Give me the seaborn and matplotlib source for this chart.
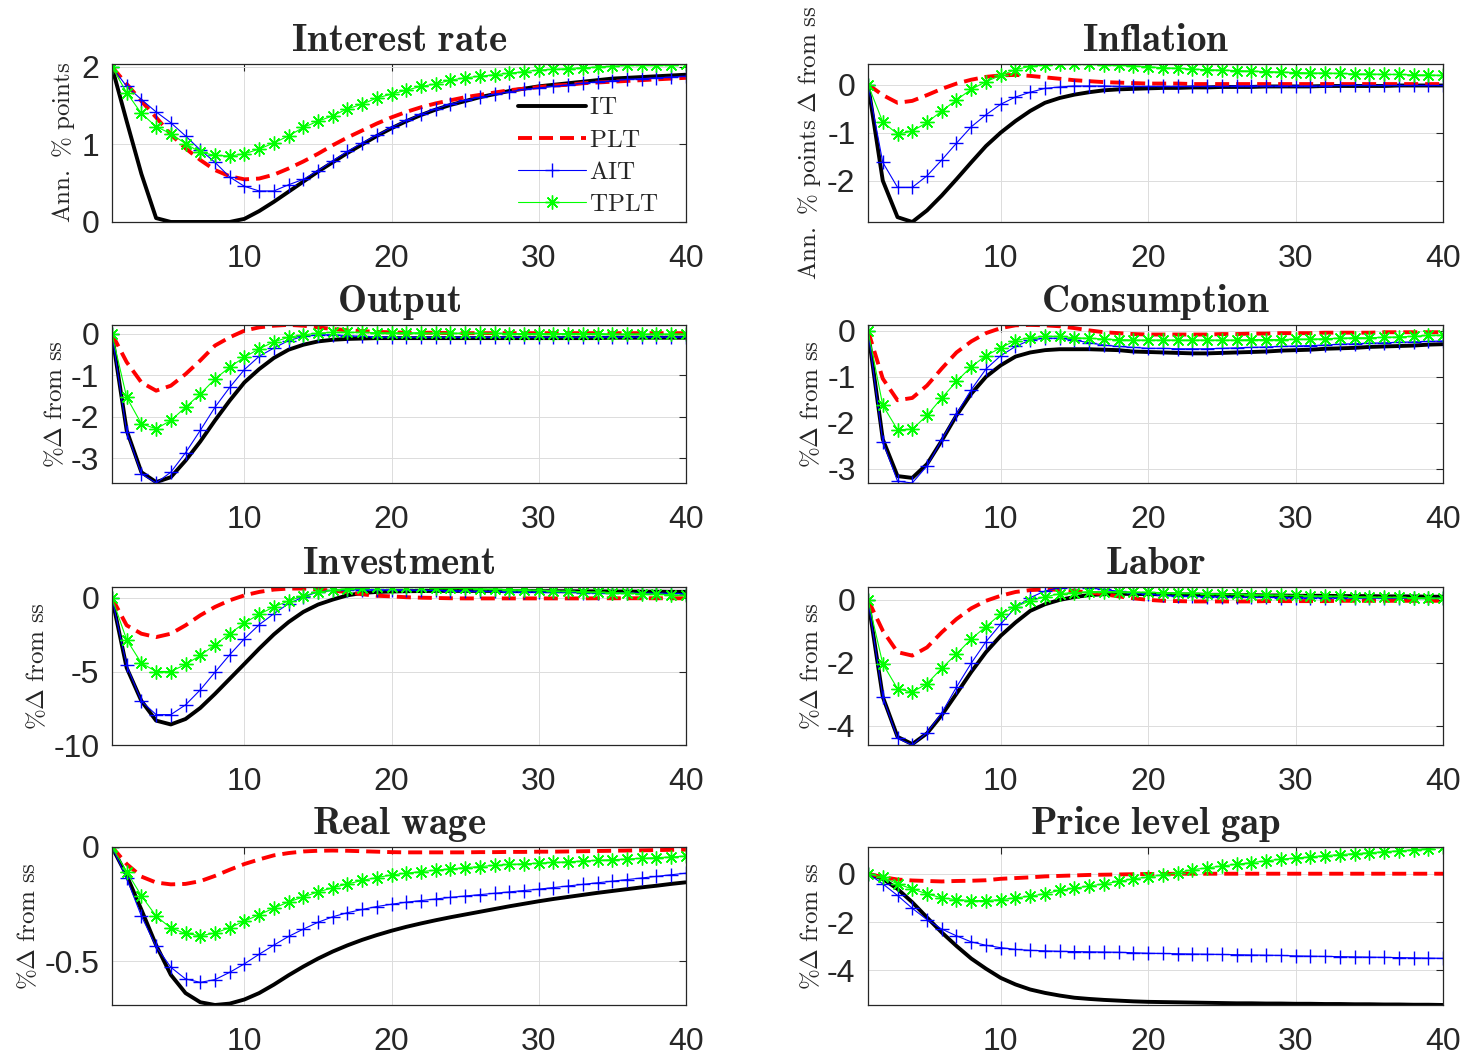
import matplotlib
matplotlib.use('Agg')
import matplotlib.pyplot as plt
from matplotlib.ticker import FormatStrFormatter
import pandas as pd
import seaborn as sns

periods = list(range(1, 41))
rules = ['IT', 'PLT', 'AIT', 'TPLT']

# Interest rate (annualised % points)
rate_it = [2.0, 1.3, 0.62, 0.05, 0.0, 0.0, 0.0, 0.0, 0.0, 0.04, 0.14, 0.26, 0.39, 0.52, 0.65, 0.77, 0.89, 1.0, 1.11, 1.21,
           1.3, 1.38, 1.45, 1.51, 1.56, 1.61, 1.65, 1.69, 1.72, 1.75, 1.77, 1.79, 1.81, 1.83, 1.85, 1.86, 1.87, 1.88, 1.89, 1.9]
rate_plt = [2.0, 1.78, 1.56, 1.35, 1.13, 0.95, 0.8, 0.67, 0.59, 0.55, 0.56, 0.61, 0.69, 0.78, 0.88, 0.99, 1.09, 1.18, 1.27, 1.35,
            1.42, 1.48, 1.53, 1.57, 1.61, 1.64, 1.67, 1.7, 1.72, 1.74, 1.76, 1.77, 1.79, 1.8, 1.81, 1.82, 1.83, 1.84, 1.85, 1.86]
rate_ait = [2.0, 1.75, 1.58, 1.42, 1.28, 1.11, 0.93, 0.77, 0.58, 0.46, 0.4, 0.4, 0.48, 0.55, 0.66, 0.79, 0.91, 1.02, 1.12, 1.22,
            1.31, 1.39, 1.46, 1.52, 1.57, 1.61, 1.65, 1.68, 1.71, 1.73, 1.75, 1.77, 1.79, 1.81, 1.82, 1.84, 1.85, 1.86, 1.87, 1.88]
rate_tplt = [2.0, 1.67, 1.4, 1.23, 1.14, 1.01, 0.9, 0.86, 0.85, 0.88, 0.94, 1.02, 1.11, 1.22, 1.3, 1.37, 1.46, 1.52, 1.6, 1.65,
             1.7, 1.75, 1.78, 1.83, 1.86, 1.88, 1.9, 1.92, 1.94, 1.96, 1.97, 1.98, 1.99, 2.0, 2.01, 2.02, 2.02, 2.03, 2.03, 2.04]

# Inflation
infl_it = [0.0, -2.0, -2.76, -2.86, -2.62, -2.31, -1.97, -1.62, -1.28, -1.0, -0.76, -0.55, -0.38, -0.28, -0.21, -0.16, -0.12, -0.1, -0.09, -0.08,
           -0.07, -0.07, -0.06, -0.06, -0.05, -0.05, -0.05, -0.04, -0.04, -0.04, -0.04, -0.03, -0.03, -0.03, -0.03, -0.03, -0.02, -0.02, -0.02, -0.02]
infl_plt = [0.0, -0.22, -0.38, -0.34, -0.22, -0.09, 0.02, 0.1, 0.16, 0.19, 0.2, 0.18, 0.15, 0.12, 0.09, 0.07, 0.05, 0.04, 0.03, 0.02,
            0.02, 0.02, 0.01, 0.01, 0.01, 0.01, 0.01, 0.01, 0.01, 0.01, 0.01, 0.01, 0.01, 0.01, 0.01, 0.01, 0.01, 0.01, 0.01, 0.01]
infl_ait = [0.0, -1.62, -2.14, -2.14, -1.9, -1.57, -1.22, -0.88, -0.63, -0.41, -0.26, -0.16, -0.08, -0.05, -0.03, -0.03, -0.03, -0.04, -0.04, -0.04,
            -0.04, -0.04, -0.04, -0.04, -0.04, -0.03, -0.03, -0.03, -0.03, -0.03, -0.03, -0.03, -0.02, -0.02, -0.02, -0.02, -0.02, -0.02, -0.02, -0.02]
infl_tplt = [0.0, -0.78, -1.03, -0.97, -0.79, -0.55, -0.32, -0.1, 0.06, 0.19, 0.31, 0.38, 0.41, 0.43, 0.43, 0.42, 0.41, 0.41, 0.39, 0.37,
             0.35, 0.34, 0.32, 0.31, 0.3, 0.29, 0.28, 0.27, 0.26, 0.25, 0.24, 0.24, 0.23, 0.22, 0.22, 0.21, 0.21, 0.2, 0.2, 0.19]

# Output
out_it = [0.0, -2.33, -3.34, -3.58, -3.46, -3.06, -2.6, -2.09, -1.61, -1.17, -0.85, -0.58, -0.38, -0.26, -0.18, -0.14, -0.12, -0.11, -0.1, -0.1,
          -0.1, -0.1, -0.1, -0.1, -0.1, -0.1, -0.1, -0.1, -0.1, -0.1, -0.1, -0.1, -0.1, -0.1, -0.09, -0.09, -0.09, -0.09, -0.09, -0.09]
out_plt = [0.0, -0.68, -1.17, -1.37, -1.25, -0.97, -0.64, -0.28, -0.08, 0.08, 0.16, 0.2, 0.22, 0.2, 0.16, 0.12, 0.09, 0.07, 0.05, 0.04,
           0.03, 0.03, 0.03, 0.02, 0.02, 0.02, 0.02, 0.02, 0.02, 0.02, 0.02, 0.02, 0.02, 0.02, 0.02, 0.02, 0.02, 0.02, 0.02, 0.02]
out_ait = [0.0, -2.36, -3.38, -3.6, -3.34, -2.87, -2.33, -1.77, -1.29, -0.86, -0.54, -0.34, -0.16, -0.06, -0.02, -0.02, -0.04, -0.06, -0.07, -0.08,
           -0.08, -0.08, -0.08, -0.08, -0.08, -0.08, -0.08, -0.08, -0.08, -0.08, -0.08, -0.08, -0.08, -0.07, -0.07, -0.07, -0.07, -0.07, -0.07, -0.07]
out_tplt = [0.0, -1.53, -2.17, -2.29, -2.09, -1.77, -1.45, -1.09, -0.8, -0.56, -0.36, -0.19, -0.08, -0.02, 0.02, 0.04, 0.04, 0.04, 0.03, 0.03,
            0.03, 0.03, 0.02, 0.02, 0.02, 0.02, 0.02, 0.01, 0.01, 0.01, 0.01, 0.01, 0.01, 0.01, 0.0, 0.0, 0.0, 0.0, 0.0, 0.0]

# Consumption
cons_it = [0.0, -2.36, -3.16, -3.2, -2.9, -2.39, -1.84, -1.37, -1.0, -0.75, -0.56, -0.47, -0.42, -0.4, -0.4, -0.4, -0.41, -0.42, -0.45, -0.46,
           -0.47, -0.48, -0.49, -0.49, -0.48, -0.47, -0.46, -0.45, -0.43, -0.42, -0.41, -0.39, -0.38, -0.37, -0.35, -0.34, -0.33, -0.32, -0.3, -0.29]
cons_plt = [0.0, -1.04, -1.51, -1.46, -1.19, -0.82, -0.47, -0.23, -0.05, 0.06, 0.12, 0.13, 0.12, 0.1, 0.06, 0.01, -0.03, -0.05, -0.07, -0.08,
            -0.08, -0.08, -0.08, -0.08, -0.07, -0.07, -0.06, -0.06, -0.05, -0.05, -0.05, -0.04, -0.04, -0.04, -0.04, -0.03, -0.03, -0.03, -0.03, -0.03]
cons_ait = [0.0, -2.41, -3.27, -3.31, -2.94, -2.37, -1.81, -1.28, -0.83, -0.54, -0.34, -0.2, -0.16, -0.16, -0.2, -0.26, -0.31, -0.34, -0.36, -0.38,
            -0.38, -0.39, -0.39, -0.39, -0.38, -0.37, -0.36, -0.35, -0.34, -0.33, -0.32, -0.31, -0.29, -0.28, -0.27, -0.26, -0.25, -0.24, -0.23, -0.22]
cons_tplt = [0.0, -1.62, -2.15, -2.14, -1.84, -1.46, -1.1, -0.78, -0.54, -0.37, -0.21, -0.15, -0.12, -0.12, -0.15, -0.16, -0.18, -0.19, -0.2, -0.2,
             -0.2, -0.2, -0.2, -0.2, -0.2, -0.2, -0.19, -0.19, -0.19, -0.18, -0.18, -0.17, -0.16, -0.15, -0.15, -0.14, -0.13, -0.12, -0.1, -0.09]

# Investment
inv_it = [0.0, -4.75, -7.0, -8.34, -8.6, -8.23, -7.48, -6.52, -5.5, -4.48, -3.45, -2.48, -1.64, -0.95, -0.45, -0.11, 0.18, 0.34, 0.41, 0.44,
          0.46, 0.47, 0.48, 0.48, 0.48, 0.48, 0.48, 0.47, 0.47, 0.47, 0.46, 0.46, 0.45, 0.45, 0.44, 0.44, 0.43, 0.43, 0.42, 0.42]
inv_plt = [0.0, -1.86, -2.43, -2.66, -2.43, -1.86, -1.18, -0.61, -0.16, 0.18, 0.41, 0.57, 0.64, 0.64, 0.57, 0.5, 0.4, 0.25, 0.15, 0.11,
           0.05, 0.02, 0.0, -0.02, -0.03, -0.03, -0.03, -0.03, -0.03, -0.03, -0.03, -0.03, -0.03, -0.02, -0.02, -0.02, -0.02, -0.02, -0.02, -0.02]
inv_ait = [0.0, -4.59, -7.02, -7.93, -7.93, -7.27, -6.25, -5.05, -3.86, -2.77, -1.82, -1.07, -0.39, 0.07, 0.41, 0.52, 0.56, 0.57, 0.56, 0.55,
           0.54, 0.52, 0.51, 0.49, 0.48, 0.46, 0.45, 0.43, 0.42, 0.41, 0.39, 0.38, 0.37, 0.36, 0.35, 0.34, 0.33, 0.32, 0.31, 0.3]
inv_tplt = [0.0, -2.84, -4.43, -5.0, -5.0, -4.52, -3.91, -3.18, -2.43, -1.7, -1.11, -0.61, -0.2, 0.14, 0.41, 0.52, 0.64, 0.7, 0.75, 0.75,
            0.74, 0.72, 0.7, 0.68, 0.65, 0.62, 0.6, 0.57, 0.55, 0.52, 0.49, 0.46, 0.43, 0.4, 0.37, 0.33, 0.29, 0.25, 0.22, 0.18]

# Labor
lab_it = [0.0, -3.08, -4.35, -4.58, -4.24, -3.66, -2.98, -2.29, -1.66, -1.14, -0.72, -0.35, -0.14, 0.0, 0.09, 0.15, 0.18, 0.19, 0.19, 0.18,
          0.18, 0.17, 0.17, 0.16, 0.16, 0.15, 0.15, 0.14, 0.14, 0.13, 0.13, 0.13, 0.12, 0.12, 0.12, 0.11, 0.11, 0.11, 0.1, 0.1]
lab_plt = [0.0, -0.98, -1.66, -1.77, -1.51, -1.03, -0.61, -0.27, -0.03, 0.13, 0.25, 0.31, 0.33, 0.32, 0.28, 0.23, 0.18, 0.11, 0.05, 0.0,
           -0.03, -0.04, -0.05, -0.05, -0.05, -0.05, -0.05, -0.04, -0.04, -0.04, -0.04, -0.04, -0.03, -0.03, -0.03, -0.03, -0.03, -0.03, -0.03, -0.03]
lab_ait = [0.0, -3.08, -4.4, -4.61, -4.22, -3.59, -2.77, -2.01, -1.33, -0.77, -0.24, 0.07, 0.28, 0.39, 0.41, 0.38, 0.33, 0.27, 0.22, 0.18,
           0.14, 0.12, 0.11, 0.1, 0.09, 0.09, 0.08, 0.08, 0.07, 0.07, 0.07, 0.06, 0.06, 0.06, 0.06, 0.05, 0.05, 0.05, 0.05, 0.05]
lab_tplt = [0.0, -2.03, -2.82, -2.93, -2.66, -2.17, -1.72, -1.24, -0.85, -0.45, -0.22, -0.03, 0.09, 0.2, 0.23, 0.26, 0.26, 0.26, 0.25, 0.24,
            0.23, 0.22, 0.21, 0.2, 0.19, 0.18, 0.17, 0.16, 0.15, 0.14, 0.13, 0.12, 0.11, 0.1, 0.09, 0.08, 0.08, 0.07, 0.06, 0.05]

# Real wage
wage_it = [0.0, -0.125, -0.275, -0.43, -0.56, -0.64, -0.68, -0.692, -0.686, -0.668, -0.64, -0.603, -0.562, -0.524, -0.489, -0.458, -0.431, -0.407, -0.386, -0.367,
           -0.35, -0.335, -0.321, -0.308, -0.296, -0.284, -0.272, -0.26, -0.249, -0.238, -0.228, -0.219, -0.21, -0.201, -0.193, -0.185, -0.177, -0.17, -0.162, -0.155]
wage_plt = [0.0, -0.075, -0.13, -0.156, -0.164, -0.162, -0.15, -0.127, -0.1, -0.075, -0.055, -0.037, -0.027, -0.02, -0.017, -0.016, -0.017, -0.019, -0.021, -0.023,
            -0.024, -0.024, -0.024, -0.024, -0.024, -0.023, -0.023, -0.022, -0.022, -0.021, -0.021, -0.02, -0.019, -0.018, -0.017, -0.016, -0.015, -0.014, -0.013, -0.012]
wage_ait = [0.0, -0.138, -0.303, -0.436, -0.527, -0.578, -0.593, -0.581, -0.549, -0.512, -0.47, -0.43, -0.392, -0.36, -0.33, -0.306, -0.288, -0.274, -0.261, -0.251,
            -0.242, -0.235, -0.228, -0.221, -0.215, -0.209, -0.203, -0.197, -0.191, -0.185, -0.178, -0.171, -0.164, -0.157, -0.15, -0.143, -0.136, -0.129, -0.122, -0.115]
wage_tplt = [0.0, -0.108, -0.214, -0.303, -0.355, -0.379, -0.389, -0.377, -0.354, -0.325, -0.297, -0.268, -0.241, -0.219, -0.197, -0.179, -0.162, -0.147, -0.134, -0.123,
             -0.115, -0.108, -0.102, -0.096, -0.091, -0.086, -0.081, -0.077, -0.074, -0.071, -0.068, -0.065, -0.062, -0.059, -0.056, -0.053, -0.05, -0.047, -0.044, -0.04]

# Price level gap
gap_it = [0.0, -0.21, -0.63, -1.18, -1.81, -2.43, -2.99, -3.51, -3.93, -4.31, -4.58, -4.79, -4.93, -5.04, -5.13, -5.18, -5.22, -5.25, -5.28, -5.3,
          -5.31, -5.32, -5.33, -5.34, -5.35, -5.36, -5.36, -5.37, -5.37, -5.38, -5.38, -5.39, -5.39, -5.4, -5.4, -5.41, -5.41, -5.42, -5.42, -5.43]
gap_plt = [0.0, -0.14, -0.24, -0.28, -0.3, -0.32, -0.3, -0.29, -0.27, -0.21, -0.18, -0.15, -0.11, -0.09, -0.07, -0.05, -0.04, -0.03, -0.02, -0.01,
           -0.01, 0.0, 0.0, 0.0, 0.0, 0.0, 0.0, 0.0, 0.0, 0.0, 0.0, 0.0, 0.0, 0.0, 0.0, 0.0, 0.0, 0.0, 0.0, 0.0]
gap_ait = [0.0, -0.42, -0.9, -1.43, -1.9, -2.29, -2.57, -2.82, -2.96, -3.06, -3.13, -3.17, -3.19, -3.21, -3.22, -3.23, -3.24, -3.25, -3.27, -3.29,
           -3.3, -3.31, -3.32, -3.33, -3.34, -3.35, -3.36, -3.37, -3.38, -3.4, -3.41, -3.42, -3.43, -3.44, -3.45, -3.46, -3.47, -3.48, -3.49, -3.5]
gap_tplt = [0.0, -0.14, -0.42, -0.63, -0.83, -1.0, -1.07, -1.11, -1.11, -1.07, -1.0, -0.93, -0.83, -0.69, -0.6, -0.51, -0.42, -0.32, -0.21, -0.14,
            -0.04, 0.04, 0.17, 0.24, 0.32, 0.39, 0.46, 0.53, 0.6, 0.65, 0.7, 0.75, 0.79, 0.83, 0.87, 0.91, 0.95, 0.99, 1.04, 1.11]

titles = ['Interest rate', 'Inflation', 'Output', 'Consumption', 'Investment', 'Labor', 'Real wage', 'Price level gap']
ylabels = [r'$\mathrm{Ann.\ \%\ points}$', r'$\mathrm{Ann.\ \%\ points\ }\Delta\mathrm{\ from\ ss}$'] + \
          [r'$\%\Delta\mathrm{\ from\ ss}$'] * 6
yticks = [[0, 1, 2], [-2, -1, 0], [-3, -2, -1, 0], [-3, -2, -1, 0], [-10, -5, 0], [-4, -2, 0], [-0.5, 0], [-4, -2, 0]]
series = [
    [rate_it, rate_plt, rate_ait, rate_tplt],
    [infl_it, infl_plt, infl_ait, infl_tplt],
    [out_it, out_plt, out_ait, out_tplt],
    [cons_it, cons_plt, cons_ait, cons_tplt],
    [inv_it, inv_plt, inv_ait, inv_tplt],
    [lab_it, lab_plt, lab_ait, lab_tplt],
    [wage_it, wage_plt, wage_ait, wage_tplt],
    [gap_it, gap_plt, gap_ait, gap_tplt],
]

# line styles, MATLAB-like
styles = {
    'IT': dict(color='black', linewidth=2.8, linestyle='-'),
    'PLT': dict(color='#ff0000', linewidth=2.8, linestyle=(0, (3.6, 1.8))),
    'AIT': dict(color='#0000ff', linewidth=0.8, marker='+', markersize=10, markeredgewidth=1.0, markeredgecolor='#0000ff'),
    'TPLT': dict(color='#00ff00', linewidth=0.8, marker=(8, 2, 0), markersize=10, markeredgewidth=1.0, markeredgecolor='#00ff00'),
}

sns.set_style('white')
plt.rcParams['font.family'] = ['Liberation Sans Narrow', 'Liberation Sans', 'DejaVu Sans']
plt.rcParams['mathtext.fontset'] = 'cm'
plt.rcParams['axes.unicode_minus'] = False

fig = plt.figure(figsize=(14.77, 10.61), dpi=100)

col_x = [0.0758, 0.5877]
col_w = [0.3886, 0.3893]
row_y = [0.7908, 0.5448, 0.2978, 0.0528]
ax_h = 0.149

for i, title in enumerate(titles):
    r, c = divmod(i, 2)
    ax = fig.add_axes([col_x[c], row_y[r], col_w[c], ax_h])
    df = pd.DataFrame({
        'period': periods * 4,
        'value': sum(series[i], []),
        'rule': [rule for rule in rules for _ in periods],
    })
    for rule in rules:
        sns.lineplot(data=df[df['rule'] == rule], x='period', y='value', ax=ax,
                     errorbar=None, legend=False, label=r'$\mathrm{%s}$' % rule, **styles[rule])
    ax.set_ylim(df['value'].min(), df['value'].max())
    ax.set_xlim(1, 40)
    ax.set_xticks([10, 20, 30, 40])
    ax.set_yticks(yticks[i])
    ax.yaxis.set_major_formatter(FormatStrFormatter('%g'))
    ax.set_xlabel('')
    ax.set_ylabel(ylabels[i], fontsize=18, color='#262626', labelpad=3)
    ax.set_title(r'$\mathbf{%s}$' % title.replace(' ', r'\ '), fontsize=28, pad=9)
    ax.grid(True, color='#dcdcdc', linewidth=0.7)
    ax.tick_params(direction='in', length=5, width=0.8, top=True, right=True, labelsize=23,
                   colors='#262626', pad=9)
    ax.tick_params(axis='x', pad=16)
    for sp in ax.spines.values():
        sp.set_color('#262626')
        sp.set_linewidth(0.9)
    if i == 0:
        ax.legend(loc='upper left', bbox_to_anchor=(0.686, 0.88), frameon=False, fontsize=18,
                  handlelength=2.7, handletextpad=0.15, labelspacing=0.33, borderpad=0)

fig.savefig('out.png', dpi=100, facecolor='white')
